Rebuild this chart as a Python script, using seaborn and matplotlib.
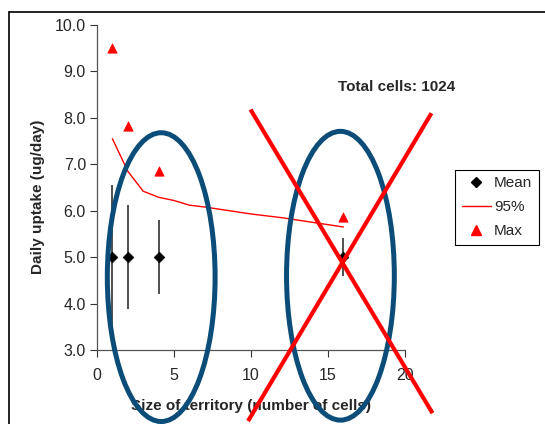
import matplotlib
matplotlib.use("Agg")
import matplotlib.pyplot as plt
import seaborn as sns
import numpy as np
import pandas as pd
from matplotlib.patches import Ellipse
from matplotlib.lines import Line2D
from matplotlib.ticker import FormatStrFormatter

# ---------------------------------------------------------------------------
# Data
# ---------------------------------------------------------------------------
territory = [1, 2, 4, 16]
mean_uptake = [5.0, 5.0, 5.0, 5.0]
err_low = [1.55, 1.12, 0.79, 0.41]
err_high = [1.55, 1.12, 0.80, 0.41]
max_uptake = [9.50, 7.83, 6.86, 5.87]

p95_x = [1, 2, 3, 4, 5, 6, 7, 8, 9, 10, 11, 12, 13, 14, 15, 16]
p95_y = [7.55, 6.85, 6.42, 6.29, 6.22, 6.12, 6.08, 6.03, 5.98, 5.93, 5.89, 5.85, 5.80, 5.75, 5.70, 5.65]

# annotation shapes (data units)
circles = [(4.17, 4.57), (15.81, 4.60)]
cross_a = ([9.97, 21.79], [8.18, 1.64])
cross_b = ([9.81, 21.72], [1.47, 8.10])

sns.set_style("white")
plt.rcParams['font.family'] = ['Liberation Sans', 'DejaVu Sans']

fig = plt.figure(figsize=(5.45, 4.24), dpi=100)
ax = fig.add_axes([0.178, 0.1745, 0.565, 0.7665])

ax.errorbar(territory, mean_uptake, yerr=[err_low, err_high], fmt='none',
            ecolor='#404040', elinewidth=1.3, capsize=0, zorder=2)
sns.lineplot(x=p95_x, y=p95_y, ax=ax, color='red', linewidth=1.0, zorder=3)
sns.scatterplot(x=territory, y=mean_uptake, ax=ax, marker='D', color='black',
                s=30, edgecolor='black', zorder=4)
sns.scatterplot(x=territory, y=max_uptake, ax=ax, marker='^', color='red',
                s=45, edgecolor='red', zorder=4)

ax.set_xlim(0, 20)
ax.set_ylim(3.0, 10.0)
ax.set_xticks([0, 5, 10, 15, 20])
ax.set_yticks(np.arange(3.0, 10.01, 1.0))
ax.yaxis.set_major_formatter(FormatStrFormatter('%.1f'))
ax.tick_params(axis='both', labelsize=11.5, length=5, width=0.8, color='#333333',
               direction='out', left=True, bottom=True)
ax.tick_params(axis='x', pad=8)
ax.tick_params(axis='y', pad=3)
for s in ['top', 'right']:
    ax.spines[s].set_visible(False)
for s in ['left', 'bottom']:
    ax.spines[s].set_color('#555555')
    ax.spines[s].set_linewidth(0.9)

ax.set_xlabel('Size of territory (number of cells)', fontsize=11, fontweight='bold')
ax.set_ylabel('Daily uptake (ug/day)', fontsize=11, fontweight='bold')
ax.xaxis.set_label_coords(0.5, -0.15)
ax.yaxis.set_label_coords(-0.17, 0.47)

# circles and crosses drawn over everything
for cx, cy in circles:
    ax.add_patch(Ellipse((cx, cy), 7.0, 6.22, fill=False, edgecolor='#0b4d78',
                         linewidth=3.6, clip_on=False, zorder=6))
for xs, ys in [cross_a, cross_b]:
    ax.plot(xs, ys, color='red', linewidth=3.0, clip_on=False, zorder=7,
            solid_capstyle='butt')

fig.text(0.728, 0.795, 'Total cells: 1024', fontsize=11, fontweight='bold',
         ha='center', va='center')

handles = [
    Line2D([], [], marker='D', color='black', linestyle='none', markersize=5.5),
    Line2D([], [], color='red', linewidth=1.0),
    Line2D([], [], marker='^', color='red', linestyle='none', markersize=7),
]
leg = fig.legend(handles, ['Mean', '95%', 'Max'], loc='upper left',
                 bbox_to_anchor=(0.835, 0.6), fontsize=11, frameon=True,
                 fancybox=False, edgecolor='black', framealpha=1,
                 handlelength=1.9, handletextpad=0.2, borderpad=0.45,
                 labelspacing=0.65, borderaxespad=0)
leg.get_frame().set_linewidth(0.8)

# outer frame (left and top edges visible)
fig.add_artist(Line2D([9.3 / 545, 9.3 / 545], [0, 1 - 11.5 / 424], color='black',
                      linewidth=1.2, transform=fig.transFigure))
fig.add_artist(Line2D([9.3 / 545, 1], [1 - 11.5 / 424, 1 - 11.5 / 424], color='black',
                      linewidth=1.2, transform=fig.transFigure))

fig.savefig('out.png', dpi=100)
